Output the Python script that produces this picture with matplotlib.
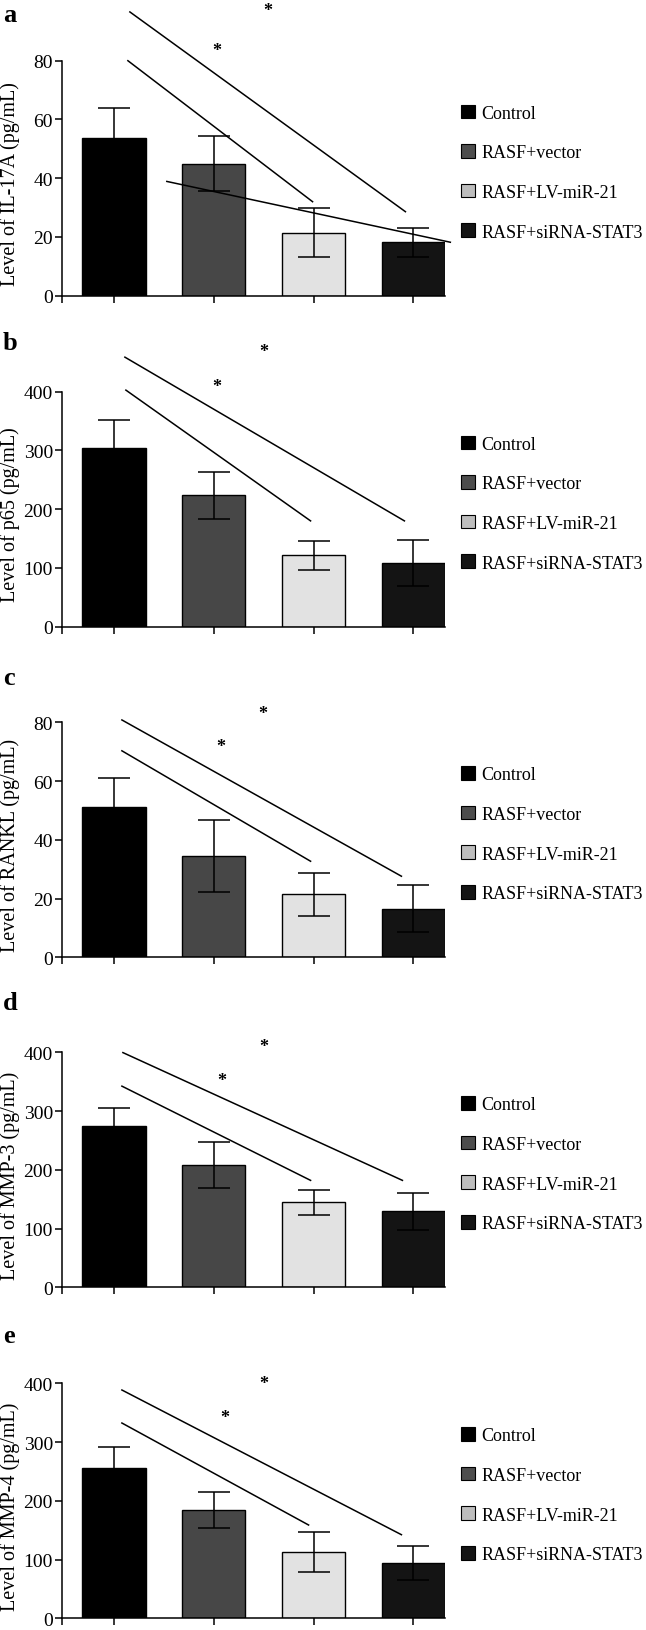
import matplotlib
matplotlib.use('Agg')
from matplotlib import pyplot as plt
from matplotlib.patches import Patch

plt.rcParams['font.family'] = ['Liberation Serif', 'DejaVu Serif']

# grupos y colores
grupos = ['Control', 'RASF+vector', 'RASF+LV-miR-21', 'RASF+siRNA-STAT3']
colores_barra = ['#000000', '#474747', '#e2e2e2', '#141414']
colores_leyenda = ['#000000', '#4d4d4d', '#bdbdbd', '#141414']

# valores (media, desviacion)
il17a_media = [53.7, 44.9, 21.4, 18.2]
il17a_sd = [10.3, 9.3, 8.3, 5.0]
p65_media = [303.6, 223.8, 121.3, 108.8]
p65_sd = [47.6, 40.0, 24.0, 39.0]
rankl_media = [51.3, 34.5, 21.4, 16.5]
rankl_sd = [9.7, 12.3, 7.2, 8.0]
mmp3_media = [274.8, 208.8, 144.4, 129.1]
mmp3_sd = [29.6, 39.0, 20.5, 31.6]
mmp4_media = [255.3, 184.3, 112.3, 94.1]
mmp4_sd = [36.8, 30.4, 34.3, 28.5]

etiquetas_y = ['Level of IL-17A (pg/mL)', 'Level of p65 (pg/mL)', 'Level of RANKL (pg/mL)',
               'Level of MMP-3 (pg/mL)', 'Level of MMP-4 (pg/mL)']
letras = ['a', 'b', 'c', 'd', 'e']
ymax = [80, 400, 80, 400, 400]
paso = [20, 100, 20, 100, 100]

# lineas de significacion (x0, y0, x1, y1) y asteriscos (x, y), en unidades de datos
lineas = [
    [(0.16, 96.6, 2.92, 28.6), (0.14, 80.0, 1.99, 32.0), (0.53, 38.9, 3.37, 18.2)],
    [(0.11, 458.8, 2.91, 180.1), (0.12, 402.7, 1.97, 180.1)],
    [(0.08, 80.8, 2.88, 27.6), (0.08, 70.3, 1.97, 32.7)],
    [(0.09, 399.5, 2.89, 182.0), (0.08, 342.4, 1.97, 182.0)],
    [(0.08, 388.6, 2.88, 142.3), (0.08, 332.4, 1.95, 158.8)],
]
asteriscos = [
    [(1.03, 85.5), (1.54, 99.1)],
    [(1.03, 418.0), (1.50, 477.5)],
    [(1.07, 73.5), (1.49, 84.9)],
    [(1.08, 361.2), (1.50, 419.3)],
    [(1.11, 350.6), (1.50, 408.5)],
]

medias = [il17a_media, p65_media, rankl_media, mmp3_media, mmp4_media]
sds = [il17a_sd, p65_sd, rankl_sd, mmp3_sd, mmp4_sd]

W, H = 646, 1631
fig = plt.figure(figsize=(W / 100, H / 100), dpi=100)

# posicion de cada panel en pixeles (borde inferior del eje)
abajo_px = [296.7, 627.7, 958.3, 1288.3, 1619.3]
letra_px = [21.7, 350.0, 685.0, 1010.0, 1343.0]
alto_px = 235
izq_px, ancho_px = 62, 383

x = list(range(len(grupos)))
ancho = 0.633

for i in range(5):
    ax = fig.add_axes([izq_px / W, 1 - abajo_px[i] / H, ancho_px / W, alto_px / H])
    ax.bar(x, medias[i], width=ancho, color=colores_barra, edgecolor='black', linewidth=1.0, zorder=2)
    ax.errorbar(x, medias[i], yerr=sds[i], fmt='none', ecolor='black', elinewidth=1.1,
                capsize=11.4, capthick=1.1, zorder=3)
    ax.set_xlim(-0.52, 3 + ancho / 2)
    ax.set_ylim(0, ymax[i])
    ax.set_yticks(range(0, ymax[i] + 1, paso[i]))
    ax.set_xticks([-0.52] + x)
    ax.set_xticklabels([])
    for s in ['top', 'right']:
        ax.spines[s].set_visible(False)
    for s in ['left', 'bottom']:
        ax.spines[s].set_linewidth(1.1)
    ax.tick_params(axis='both', direction='out', length=5, width=1.1, labelsize=14, pad=1.5)
    ax.set_ylabel(etiquetas_y[i], fontsize=14.5)
    ax.yaxis.set_label_coords(-0.11, 0.48)

    for (x0, y0, x1, y1) in lineas[i]:
        ax.plot([x0, x1], [y0, y1], color='black', linewidth=1.1, clip_on=False, zorder=4)
    for (xs, ys) in asteriscos[i]:
        ax.annotate('*', (xs, ys), xytext=(0, -4), textcoords='offset points', fontsize=13,
                    ha='center', va='center', fontweight='bold', annotation_clip=False)

    handles = [Patch(facecolor=c, edgecolor='black', linewidth=0.8) for c in colores_leyenda]
    ax.legend(handles, grupos, loc='center left', bbox_to_anchor=(1.041, 0.524), frameon=False,
              fontsize=13, handlelength=0.78, handleheight=0.78, handletextpad=0.35,
              labelspacing=1.25, borderpad=0, borderaxespad=0)

    fig.text(3 / W, 1 - letra_px[i] / H, letras[i], fontsize=19, fontweight='bold', va='baseline')

fig.savefig('out.png', dpi=100)
